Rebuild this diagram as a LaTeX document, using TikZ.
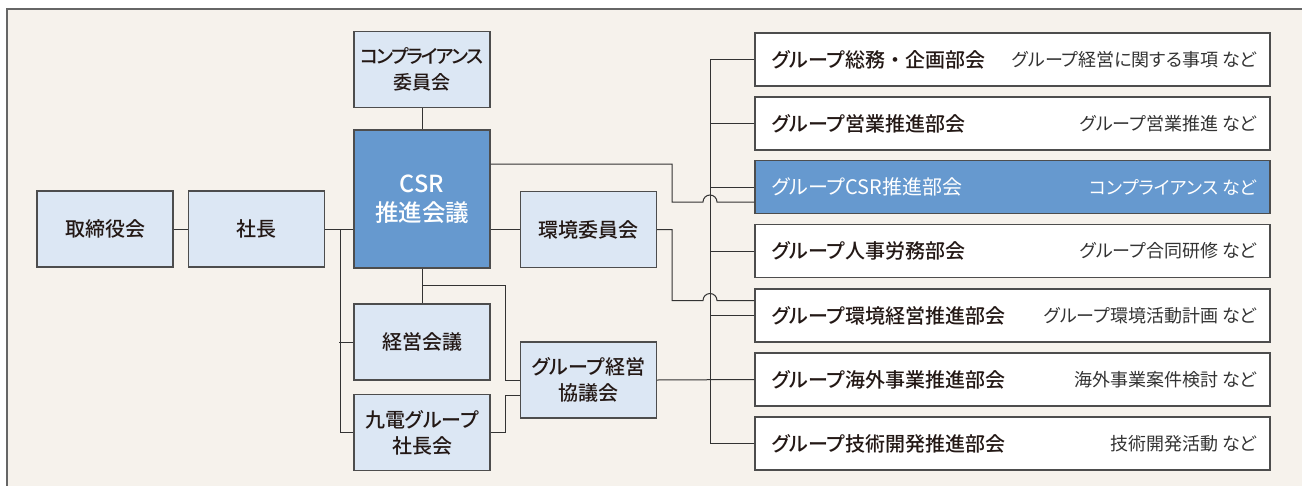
\documentclass[tikz,border=0pt]{standalone}
\usepackage{fontspec}
\setmainfont{Noto Sans CJK JP}[RawFeature=+palt]
\newfontfamily\jpm{Noto Sans CJK JP}[UprightFont={* Medium}, RawFeature=+palt]
\usetikzlibrary{calc}
\definecolor{bgc}{HTML}{F6F2EC}
\definecolor{lblue}{HTML}{DCE7F4}
\definecolor{mblue}{HTML}{6699CF}
\definecolor{bord}{HTML}{4D4D4D}
\definecolor{txt}{HTML}{231815}
\definecolor{desc}{HTML}{333333}
\newcommand{\fulldot}{{\addfontfeature{RawFeature=-palt}・}}
\tikzset{
  box/.style={draw=bord, line width=1.4pt, fill=lblue, minimum width=136pt, minimum height=76pt, inner sep=0pt, align=center, text=txt, font=\fontsize{20}{26}\jpm},
  csrbox/.style={box, fill=mblue, text=white, minimum height=138pt, font=\fontsize{23.5}{29}\jpm},
  rbox/.style={draw=bord, line width=1.4pt, fill=white, minimum width=515pt, minimum height=53pt, inner sep=0pt},
  rcsr/.style={rbox, fill=mblue},
  lab/.style={anchor=west, inner sep=0pt, text=txt, font=\fontsize{20}{22}\jpm},
  dsc/.style={anchor=east, inner sep=0pt, text=desc, font=\fontsize{18}{20}\selectfont},
  conn/.style={draw=black!80, line width=1pt},
}
\begin{document}
\begin{tikzpicture}[x=1pt,y=-1pt]
\useasboundingbox (0,0) rectangle (1302,485);
\clip (0,0) rectangle (1302,485);
\fill[white] (0,0) rectangle (1302,485);
\draw[fill=bgc, draw=black!60, line width=1.4pt] (7,9) rectangle (1330,510);

% left boxes
\node[box] (tori) at (105,229) {取締役会};
\node[box] (shacho) at (256.5,229) {社長};
\node[box, font=\fontsize{19}{26}\jpm] (comp) at (422,69.5) {{\addfontfeature{LetterSpace=-10}コンプライアンス}\\委員会};
\node[csrbox] (csr) at (422,199) {CSR\\推進会議};
\node[box] (env) at (588.5,229.5) {環境委員会};
\node[box] (keiei) at (422,342) {経営会議};
\node[box] (kyuden) at (422,432.5) {九電グループ\\社長会};
\node[box] (gkyo) at (588.5,380) {グループ経営\\協議会};

% right boxes
\foreach \i/\y in {1/59.5,2/123.5,3/187,4/251,5/315.5,6/379.5,7/443.5}{
  \ifnum\i=3
    \node[rcsr] (r\i) at (1012.5,\y) {};
  \else
    \node[rbox] (r\i) at (1012.5,\y) {};
  \fi
}
\node[lab] (l1) at ($(r1.west)+(17,0)$) {グループ総務\fulldot 企画部会};
\node[dsc] (d1) at ($(r1.east)+(-14,0)$) {グループ経営に関する事項 など};
\node[lab] (l2) at ($(r2.west)+(17,0)$) {グループ営業推進部会};
\node[dsc] (d2) at ($(r2.east)+(-14,0)$) {グループ営業推進 など};
\node[lab, text=white, font=\fontsize{20}{22}\selectfont] (l3) at ($(r3.west)+(17,0)$) {グループCSR推進部会};
\node[dsc, text=white] (d3) at ($(r3.east)+(-14,0)$) {コンプライアンス など};
\node[lab] (l4) at ($(r4.west)+(17,0)$) {グループ人事労務部会};
\node[dsc] (d4) at ($(r4.east)+(-14,0)$) {グループ合同研修 など};
\node[lab] (l5) at ($(r5.west)+(17,0)$) {グループ環境経営推進部会};
\node[dsc] (d5) at ($(r5.east)+(-14,0)$) {グループ環境活動計画 など};
\node[lab] (l6) at ($(r6.west)+(17,0)$) {グループ海外事業推進部会};
\node[dsc] (d6) at ($(r6.east)+(-14,0)$) {海外事業案件検討 など};
\node[lab] (l7) at ($(r7.west)+(17,0)$) {グループ技術開発推進部会};
\node[dsc] (d7) at ($(r7.east)+(-14,0)$) {技術開発活動 など};

\coordinate (jx) at (672,0);
\coordinate (bx) at (710,0);

% connectors
\draw[conn] (tori.east) -- (shacho.west);
\draw[conn] (shacho.east) -- (csr.west |- shacho.east);
\draw[conn] ($(shacho.east)+(15,0)$) |- (kyuden.west);
\draw[conn] (keiei.west) -- ++(-14,0);
\draw[conn] (comp.south) -- (csr.north);
\draw[conn] (csr.south) -- (keiei.north);
\draw[conn] ($(csr.south)+(0,17)$) -| ($(gkyo.west)+(-14,0)$) -- (gkyo.west);
\draw[conn] (kyuden.east) -| ($(gkyo.west)+(-14,15)$) -- ($(gkyo.west)+(0,15)$);
\draw[conn] (csr.east |- env.west) -- (env.west);
\draw[conn] (gkyo.east) -- (r6.west);

% bus
\draw[conn] (bx |- r1.west) -- (bx |- r7.west);
\foreach \i in {1,...,7}{ \draw[conn] (r\i.west) -- (bx |- r\i.west); }

% hop lines
\draw[conn] ($(csr.east)+(0,-35)$) -| ($(jx |- r3.west)+(0,15)$) -- ($(bx |- r3.west)+(-7,15)$) arc[start angle=180, end angle=0, radius=7pt] -- ($(r3.west)+(0,15)$);
\draw[conn] (env.east) -| ($(jx |- r5.west)+(0,-15)$) -- ($(bx |- r5.west)+(-7,-15)$) arc[start angle=180, end angle=0, radius=7pt] -- ($(r5.west)+(0,-15)$);
\end{tikzpicture}
\end{document}
